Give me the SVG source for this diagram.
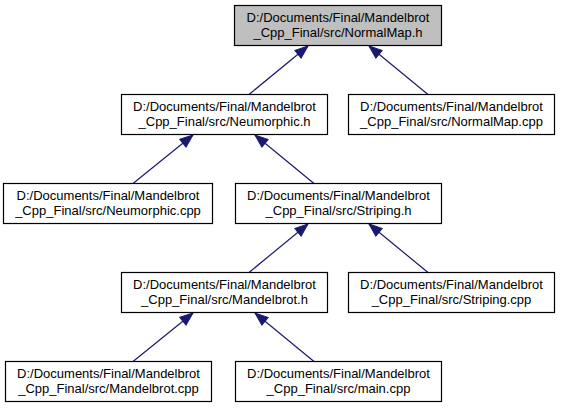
<svg xmlns="http://www.w3.org/2000/svg" width="562" height="409" viewBox="0 0 562 409">
<style>
.bg{fill:#ffffff}
.n{fill:#ffffff;stroke:#000000;stroke-width:1.2}
.main{fill:#bfbfbf;stroke:#000000;stroke-width:1.2}
text{font-family:"Liberation Sans",Arial,sans-serif;font-size:13px;fill:#000000;text-anchor:middle}
.e{fill:none;stroke:#191970;stroke-width:1.2}
</style>
<defs>
<marker id="ah" markerUnits="userSpaceOnUse" viewBox="-14 -6 15 12" markerWidth="15" markerHeight="12" refX="0" refY="0" orient="auto">
<path d="M0,0 L-13,-5 L-13,5 Z" fill="#191970" stroke="#191970" stroke-width="1"/>
</marker>
</defs>
<rect class="bg" x="0" y="0" width="562" height="409"/>
<g id="connectors">
<line class="e" x1="249" y1="94.5" x2="308" y2="46" marker-end="url(#ah)"/>
<line class="e" x1="428" y1="94.5" x2="369" y2="46" marker-end="url(#ah)"/>
<line class="e" x1="133" y1="183.5" x2="193" y2="135" marker-end="url(#ah)"/>
<line class="e" x1="314" y1="183.5" x2="255" y2="135" marker-end="url(#ah)"/>
<line class="e" x1="249" y1="272.5" x2="308" y2="224" marker-end="url(#ah)"/>
<line class="e" x1="428" y1="272.5" x2="369" y2="224" marker-end="url(#ah)"/>
<line class="e" x1="133" y1="361.5" x2="193" y2="313" marker-end="url(#ah)"/>
<line class="e" x1="314" y1="361.5" x2="255" y2="313" marker-end="url(#ah)"/>
</g>
<g id="node-normalmap-h">
<rect class="main" x="234.5" y="5.5" width="207" height="40"/>
<text x="338" y="22">D:/Documents/Final/Mandelbrot</text>
<text x="338" y="36.5">_Cpp_Final/src/NormalMap.h</text>
</g>
<g id="node-neumorphic-h">
<rect class="n" x="121.5" y="94.5" width="206" height="40"/>
<text x="224.5" y="111">D:/Documents/Final/Mandelbrot</text>
<text x="224.5" y="125.5">_Cpp_Final/src/Neumorphic.h</text>
</g>
<g id="node-normalmap-cpp">
<rect class="n" x="348.5" y="94.5" width="206" height="40"/>
<text x="451.5" y="111">D:/Documents/Final/Mandelbrot</text>
<text x="451.5" y="125.5">_Cpp_Final/src/NormalMap.cpp</text>
</g>
<g id="node-neumorphic-cpp">
<rect class="n" x="3.5" y="183.5" width="209" height="40"/>
<text x="108" y="200">D:/Documents/Final/Mandelbrot</text>
<text x="108" y="214.5">_Cpp_Final/src/Neumorphic.cpp</text>
</g>
<g id="node-striping-h">
<rect class="n" x="235.5" y="183.5" width="206" height="40"/>
<text x="338.5" y="200">D:/Documents/Final/Mandelbrot</text>
<text x="338.5" y="214.5">_Cpp_Final/src/Striping.h</text>
</g>
<g id="node-mandelbrot-h">
<rect class="n" x="121.5" y="272.5" width="206" height="40"/>
<text x="224.5" y="289">D:/Documents/Final/Mandelbrot</text>
<text x="224.5" y="303.5">_Cpp_Final/src/Mandelbrot.h</text>
</g>
<g id="node-striping-cpp">
<rect class="n" x="348.5" y="272.5" width="206" height="40"/>
<text x="451.5" y="289">D:/Documents/Final/Mandelbrot</text>
<text x="451.5" y="303.5">_Cpp_Final/src/Striping.cpp</text>
</g>
<g id="node-mandelbrot-cpp">
<rect class="n" x="5.5" y="361.5" width="206" height="40"/>
<text x="108.5" y="378">D:/Documents/Final/Mandelbrot</text>
<text x="108.5" y="392.5">_Cpp_Final/src/Mandelbrot.cpp</text>
</g>
<g id="node-main-cpp">
<rect class="n" x="235.5" y="361.5" width="206" height="40"/>
<text x="338.5" y="378">D:/Documents/Final/Mandelbrot</text>
<text x="338.5" y="392.5">_Cpp_Final/src/main.cpp</text>
</g>
</svg>
